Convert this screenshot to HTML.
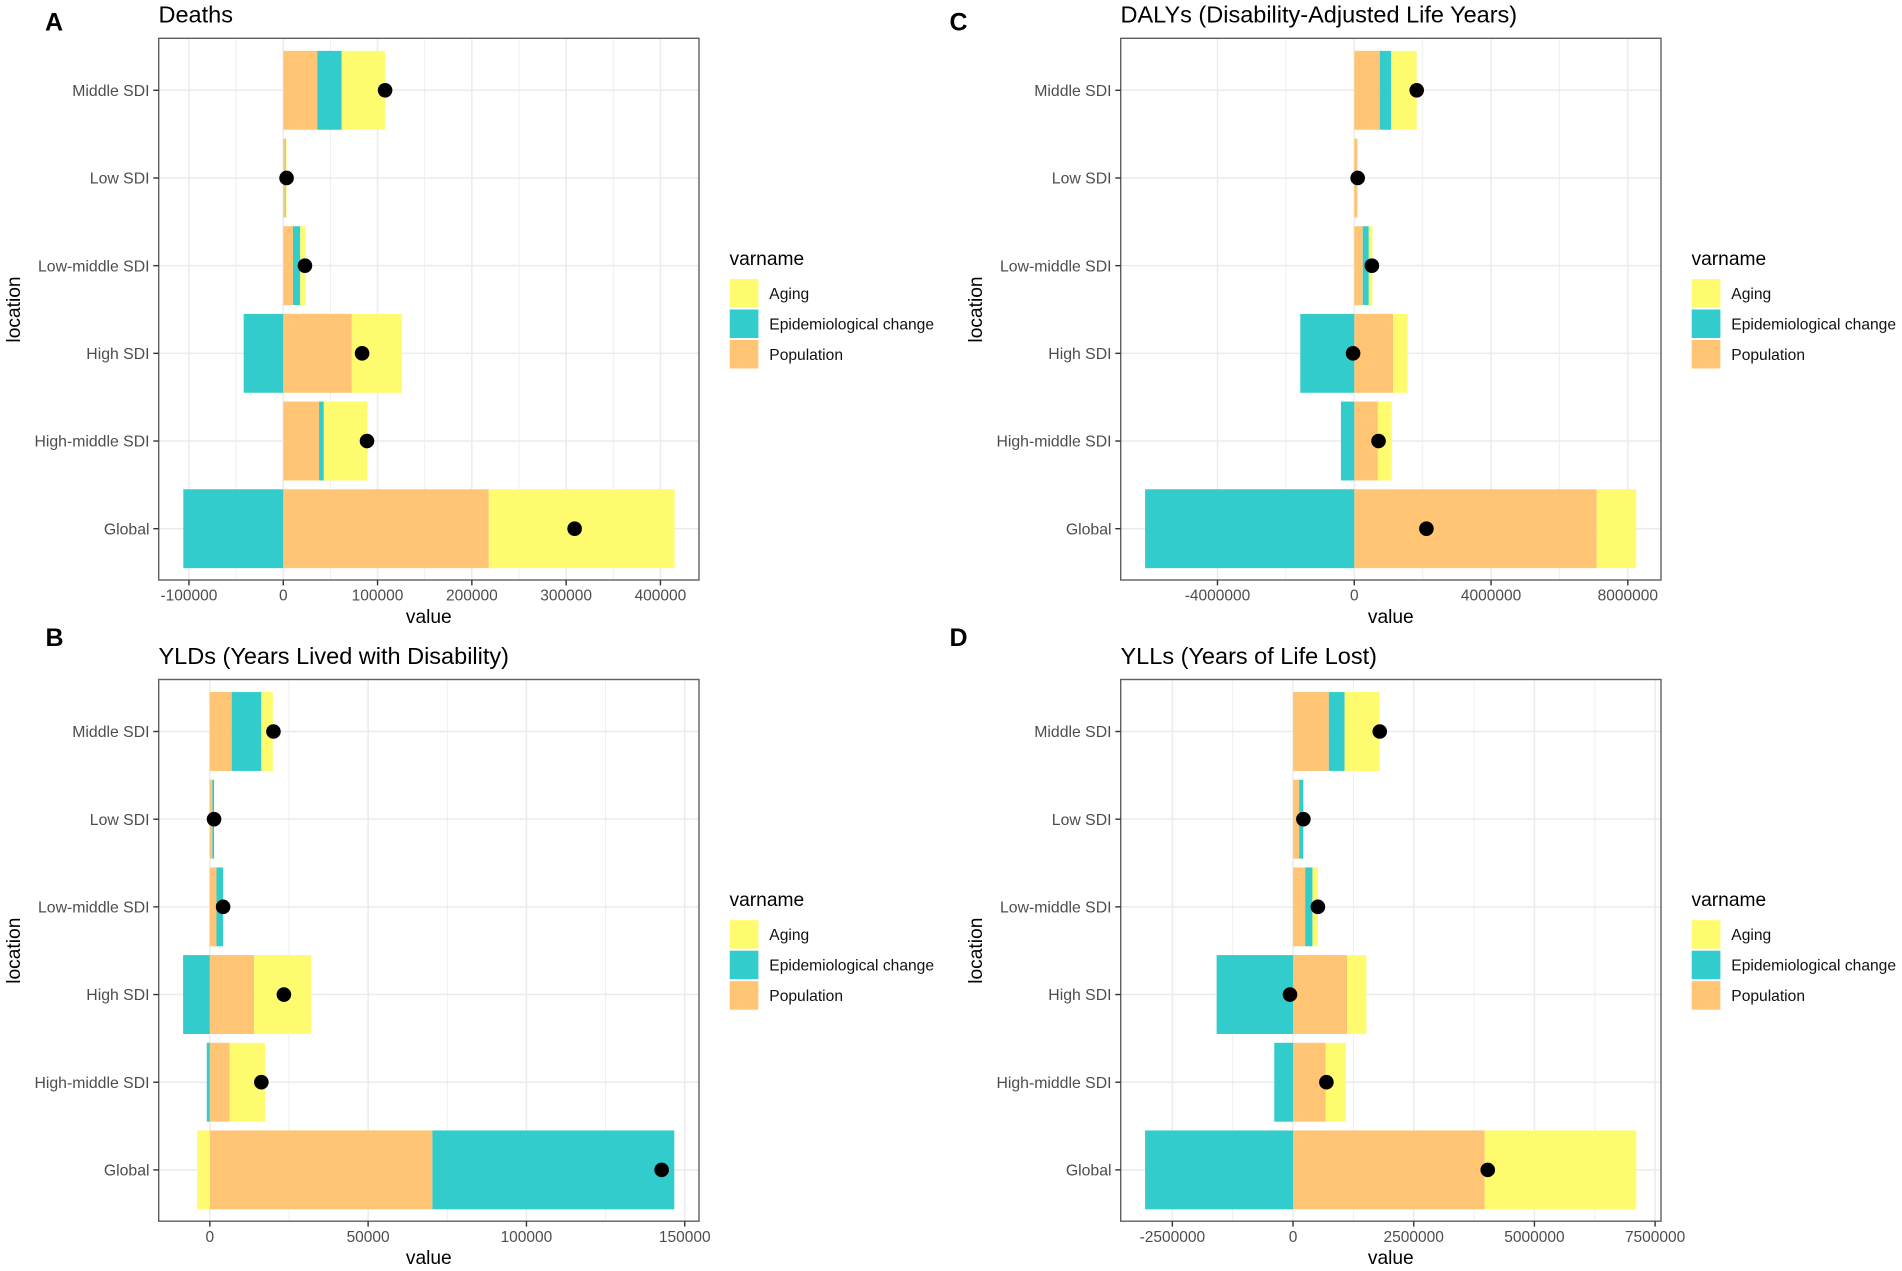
<!DOCTYPE html>
<html lang="en">
<head>
<meta charset="utf-8">
<title>Decomposition of burden by SDI</title>
<style>
html,body{margin:0;padding:0;background:#fff;}
svg{display:block;font-family:"Liberation Sans",Arial,sans-serif;}
.title{font-size:23.5px;fill:#000;}
.letter{font-size:25px;font-weight:bold;fill:#000;}
.axt{font-size:19.2px;fill:#000;}
.legt{font-size:19.2px;fill:#000;}
.legl{font-size:15.6px;fill:#111;}
.tick{font-size:15.5px;fill:#4D4D4D;}
.ytick{font-size:15.8px;fill:#4D4D4D;}
</style>
</head>
<body>
<svg id="figure" xmlns="http://www.w3.org/2000/svg" width="1902" height="1271" viewBox="0 0 1902 1271">
  <rect x="0" y="0" width="1902" height="1271" fill="#fff"/>

  <text class="letter" x="45" y="30.7">A</text>
  <text class="letter" x="45.5" y="646">B</text>
  <text class="letter" x="949.5" y="30.7">C</text>
  <text class="letter" x="949.5" y="646">D</text>

  <g id="panel-deaths" transform="translate(0,0)">
    <text class="title" x="158.5" y="22.7">Deaths</text>
    <text class="axt" x="428.8" y="623" text-anchor="middle">value</text>
    <text class="axt" transform="translate(20,309.5) rotate(-90)" text-anchor="middle">location</text>
    <g>
      <text class="legt" x="729.5" y="265">varname</text>
      <rect x="729.7" y="279" width="28.7" height="28.5" fill="#FFFB6E"/>
      <rect x="729.7" y="309.5" width="28.7" height="28.5" fill="#33CCCC"/>
      <rect x="729.7" y="340" width="28.7" height="28.5" fill="#FFC574"/>
      <text class="legl" x="769.3" y="299">Aging</text>
      <text class="legl" x="769.3" y="329.5">Epidemiological change</text>
      <text class="legl" x="769.3" y="360">Population</text>
    </g>
  </g>

  <g id="panel-dalys" transform="translate(962,0)">
    <text class="title" x="158.5" y="22.7">DALYs (Disability-Adjusted Life Years)</text>
    <text class="axt" x="428.8" y="623" text-anchor="middle">value</text>
    <text class="axt" transform="translate(20,309.5) rotate(-90)" text-anchor="middle">location</text>
    <g>
      <text class="legt" x="729.5" y="265">varname</text>
      <rect x="729.7" y="279" width="28.7" height="28.5" fill="#FFFB6E"/>
      <rect x="729.7" y="309.5" width="28.7" height="28.5" fill="#33CCCC"/>
      <rect x="729.7" y="340" width="28.7" height="28.5" fill="#FFC574"/>
      <text class="legl" x="769.3" y="299">Aging</text>
      <text class="legl" x="769.3" y="329.5">Epidemiological change</text>
      <text class="legl" x="769.3" y="360">Population</text>
    </g>
  </g>

  <g id="panel-ylds" transform="translate(0,641.2)">
    <text class="title" x="158.5" y="22.7">YLDs (Years Lived with Disability)</text>
    <text class="axt" x="428.8" y="623" text-anchor="middle">value</text>
    <text class="axt" transform="translate(20,309.5) rotate(-90)" text-anchor="middle">location</text>
    <g>
      <text class="legt" x="729.5" y="265">varname</text>
      <rect x="729.7" y="279" width="28.7" height="28.5" fill="#FFFB6E"/>
      <rect x="729.7" y="309.5" width="28.7" height="28.5" fill="#33CCCC"/>
      <rect x="729.7" y="340" width="28.7" height="28.5" fill="#FFC574"/>
      <text class="legl" x="769.3" y="299">Aging</text>
      <text class="legl" x="769.3" y="329.5">Epidemiological change</text>
      <text class="legl" x="769.3" y="360">Population</text>
    </g>
  </g>

  <g id="panel-ylls" transform="translate(962,641.2)">
    <text class="title" x="158.5" y="22.7">YLLs (Years of Life Lost)</text>
    <text class="axt" x="428.8" y="623" text-anchor="middle">value</text>
    <text class="axt" transform="translate(20,309.5) rotate(-90)" text-anchor="middle">location</text>
    <g>
      <text class="legt" x="729.5" y="265">varname</text>
      <rect x="729.7" y="279" width="28.7" height="28.5" fill="#FFFB6E"/>
      <rect x="729.7" y="309.5" width="28.7" height="28.5" fill="#33CCCC"/>
      <rect x="729.7" y="340" width="28.7" height="28.5" fill="#FFC574"/>
      <text class="legl" x="769.3" y="299">Aging</text>
      <text class="legl" x="769.3" y="329.5">Epidemiological change</text>
      <text class="legl" x="769.3" y="360">Population</text>
    </g>
  </g>
</svg>

<script>
// Categories, top to bottom
const categories = ['Middle SDI', 'Low SDI', 'Low-middle SDI', 'High SDI', 'High-middle SDI', 'Global'];

// Deaths
const deathsPopulation = [36000, 1700, 10300, 72700, 38000, 218000];
const deathsEpi = [26000, 700, 7700, -42000, 5000, -106000];
const deathsAging = [46000, 1100, 5800, 53300, 46400, 197000];
const deathsNet = [108000, 3500, 23000, 83600, 88800, 309000];
const deathsTicks = [-100000, 0, 100000, 200000, 300000, 400000];
const deathsMinor = [-50000, 50000, 150000, 250000, 350000];
const deathsDomain = [-132100, 440900];

// YLDs
const yldsPopulation = [6900, 800, 2100, 14000, 6300, 70300];
const yldsEpi = [9380, 540, 2100, -8430, -960, 76400];
const yldsAging = [3620, 20, 60, 18000, 11130, -4000];
const yldsNet = [20100, 1340, 4200, 23400, 16280, 142700];
const yldsTicks = [0, 50000, 100000, 150000];
const yldsMinor = [25000, 75000, 125000];
const yldsDomain = [-16140, 154500];

// DALYs
const dalysPopulation = [745000, 85000, 248000, 1135000, 690000, 7092000];
const dalysEpi = [335000, 5000, 177000, -1578000, -390000, -6117000];
const dalysAging = [746000, 10000, 107000, 425000, 410000, 1153000];
const dalysNet = [1826000, 100000, 515000, -35000, 710000, 2110000];
const dalysTicks = [-4000000, 0, 4000000, 8000000];
const dalysMinor = [-2000000, 2000000, 6000000];
const dalysDomain = [-6830000, 8970000];

// YLLs
const yllsPopulation = [741000, 126000, 251000, 1118000, 678000, 3970000];
const yllsEpi = [327000, 88000, 151000, -1583000, -389000, -3065000];
const yllsAging = [728000, 2000, 113000, 402000, 415000, 3140000];
const yllsNet = [1796000, 214000, 515000, -63000, 691000, 4033000];
const yllsTicks = [-2500000, 0, 2500000, 5000000, 7500000];
const yllsMinor = [-1250000, 1250000, 3750000, 6250000];
const yllsDomain = [-3570000, 7622000];

const NS = 'http://www.w3.org/2000/svg';
const FRAME = {left: 158.7, right: 699, top: 38.3, bottom: 580};
const ROW_START = 52;
const ROW_STEP = 87.68;
const BAR_SIZE = 78.9;
const COLORS = {population: '#FFC574', epi: '#33CCCC', aging: '#FFFB6E'};

function svgEl(parent, tag, attrs, text) {
  const el = document.createElementNS(NS, tag);
  for (const k in attrs) el.setAttribute(k, attrs[k]);
  if (text !== undefined) el.textContent = text;
  parent.appendChild(el);
  return el;
}

function slug(s) {
  return s.toLowerCase().replace(/\s+/g, '-');
}

function drawPanel(id, key, domain, ticks, minor, population, epi, aging, net) {
  const root = document.getElementById(id);
  const g = document.createElementNS(NS, 'g');
  
  
  root.insertBefore(g, root.firstChild);

  const xScale = function (v) {
    return FRAME.left + (v - domain[0]) / (domain[1] - domain[0]) * (FRAME.right - FRAME.left);
  };
  const yScale = function (i) {
    return FRAME.top + ROW_START + i * ROW_STEP;
  };

  const bg = svgEl(g, 'rect', {x: FRAME.left, y: FRAME.top, width: FRAME.right - FRAME.left, height: FRAME.bottom - FRAME.top, fill: '#fff'});
  
  

  minor.forEach(function (v) {
    const line = svgEl(g, 'line', {x1: xScale(v), x2: xScale(v), y1: FRAME.top, y2: FRAME.bottom, stroke: '#EFEFEF', 'stroke-width': 1});
    
    
  });
  ticks.forEach(function (v) {
    const line = svgEl(g, 'line', {x1: xScale(v), x2: xScale(v), y1: FRAME.top, y2: FRAME.bottom, stroke: '#EBEBEB', 'stroke-width': 1.5});
    
    
  });
  categories.forEach(function (c, i) {
    const line = svgEl(g, 'line', {x1: FRAME.left, x2: FRAME.right, y1: yScale(i), y2: yScale(i), stroke: '#EBEBEB', 'stroke-width': 1.5});
    
    
  });

  categories.forEach(function (c, i) {
    let pos = 0;
    let neg = 0;
    const parts = [
      ['population', population[i]],
      ['epi', epi[i]],
      ['aging', aging[i]]
    ];
    parts.forEach(function (p) {
      const v = p[1];
      let a;
      let b;
      if (v >= 0) {
        a = pos;
        b = pos + v;
        pos = b;
      } else {
        b = neg;
        a = neg + v;
        neg = a;
      }
      const bar = svgEl(g, 'rect', {x: xScale(a), y: yScale(i) - BAR_SIZE / 2, width: xScale(b) - xScale(a), height: BAR_SIZE, fill: COLORS[p[0]]});
      
      
    });
  });

  categories.forEach(function (c, i) {
    const dot = svgEl(g, 'circle', {cx: xScale(net[i]), cy: yScale(i), r: 7.3, fill: '#000'});
    
    
  });

  const frame = svgEl(g, 'rect', {x: FRAME.left, y: FRAME.top, width: FRAME.right - FRAME.left, height: FRAME.bottom - FRAME.top, fill: 'none', stroke: '#5F5F5F', 'stroke-width': 1.4});
  
  

  categories.forEach(function (c, i) {
    const tick = svgEl(g, 'line', {x1: FRAME.left - 5.4, x2: FRAME.left, y1: yScale(i), y2: yScale(i), stroke: '#333', 'stroke-width': 1.4});
    
    
    const label = svgEl(g, 'text', {'class': 'ytick', x: 149.5, y: yScale(i) + 5.7, 'text-anchor': 'end'}, c);
    
    
  });

  ticks.forEach(function (v) {
    const tick = svgEl(g, 'line', {x1: xScale(v), x2: xScale(v), y1: FRAME.bottom, y2: FRAME.bottom + 5.4, stroke: '#333', 'stroke-width': 1.4});
    
    
    const label = svgEl(g, 'text', {'class': 'tick', x: xScale(v), y: FRAME.bottom + 20.7, 'text-anchor': 'middle'}, String(v));
    
    
  });
}

drawPanel('panel-deaths', 'deaths', deathsDomain, deathsTicks, deathsMinor, deathsPopulation, deathsEpi, deathsAging, deathsNet);
drawPanel('panel-dalys', 'dalys', dalysDomain, dalysTicks, dalysMinor, dalysPopulation, dalysEpi, dalysAging, dalysNet);
drawPanel('panel-ylds', 'ylds', yldsDomain, yldsTicks, yldsMinor, yldsPopulation, yldsEpi, yldsAging, yldsNet);
drawPanel('panel-ylls', 'ylls', yllsDomain, yllsTicks, yllsMinor, yllsPopulation, yllsEpi, yllsAging, yllsNet);
</script>
</body>
</html>
